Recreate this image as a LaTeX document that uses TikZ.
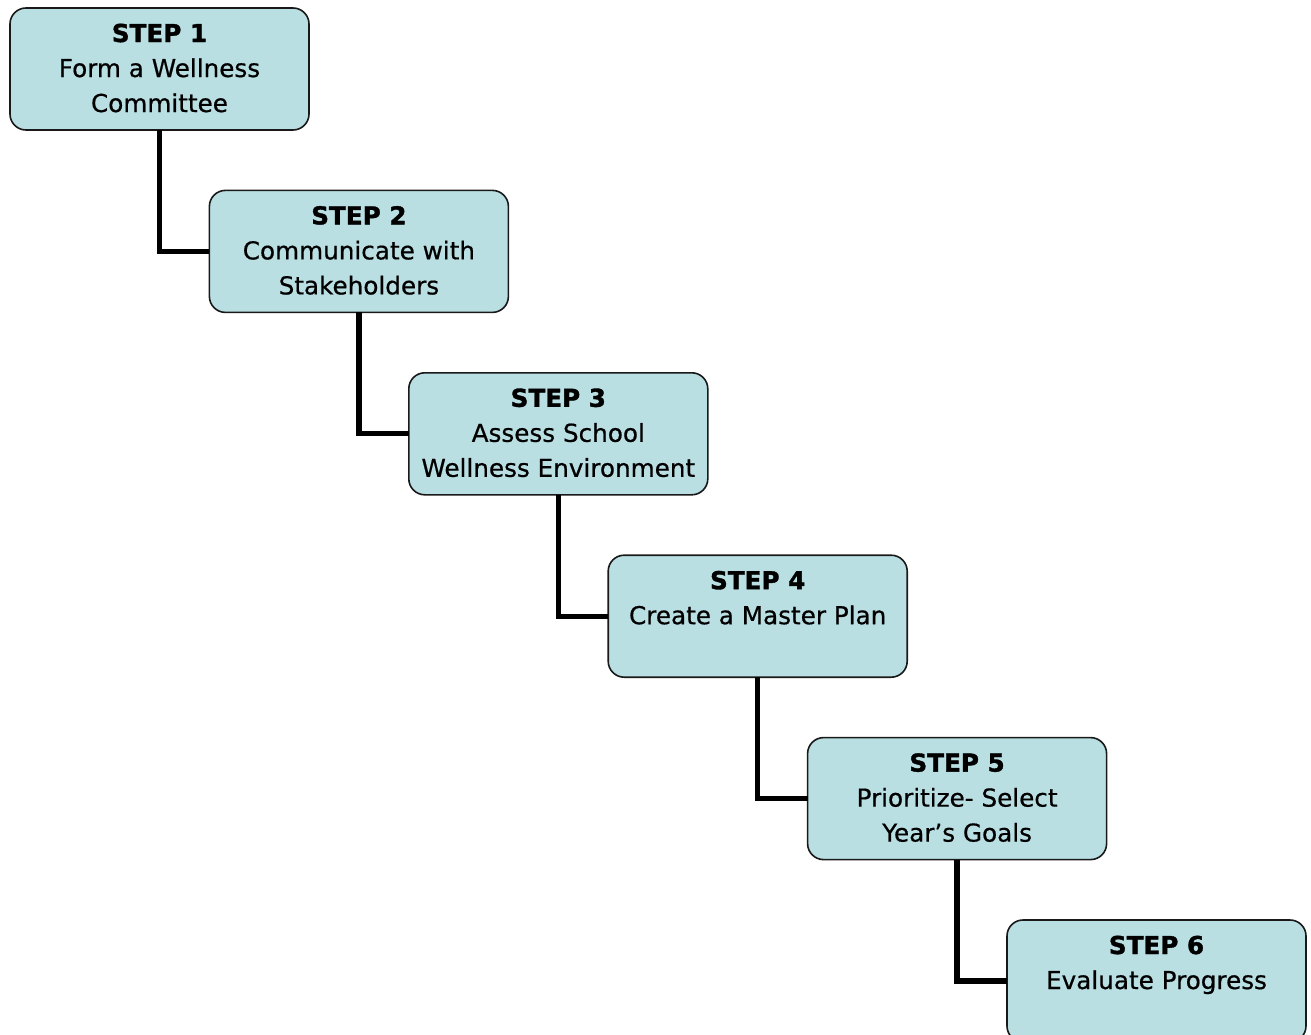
\documentclass[tikz,border=0pt]{standalone}
\usepackage{fontspec}
\setmainfont{DejaVu Sans}[FakeBold=0.6, BoldFeatures={FakeBold=1.4}]
\usepackage{tikz}
\usetikzlibrary{positioning}

\definecolor{stepfill}{RGB}{185,223,227}
\newcommand{\steplabel}[2]{\parbox[c][91.5pt][t]{224.25pt}{\centering\rule{0pt}{25.5pt}\textbf{STEP #1}\\#2}}

\begin{document}
\begin{tikzpicture}[
stepbox/.style={rectangle, rounded corners=12pt, draw=black!90, fill=stepfill, line width=1.2pt, inner sep=0pt, outer sep=0pt, minimum width=224.25pt, minimum height=91.5pt, font=\fontsize{18.5pt}{26.25pt}\selectfont},
link/.style={line width=4pt, black},
]
\useasboundingbox (0,0) rectangle (983.25pt,-776.25pt);
%Nodes
\node[stepbox, anchor=north west] (step1) at (7.5pt,-6pt)             {\steplabel{1}{Form a Wellness\\Committee}};
\node[stepbox]      (step2)      [below right=45.3pt and -74.7pt of step1] {\steplabel{2}{Communicate with\\Stakeholders}};
\node[stepbox]      (step3)      [below right=45.3pt and -74.7pt of step2] {\steplabel{3}{Assess School\\Wellness Environment}};
\node[stepbox]      (step4)      [below right=45.3pt and -74.7pt of step3] {\steplabel{4}{Create a Master Plan}};
\node[stepbox]      (step5)      [below right=45.3pt and -74.7pt of step4] {\steplabel{5}{Prioritize- Select\\Year’s Goals}};
\node[stepbox]      (step6)      [below right=45.3pt and -74.7pt of step5] {\steplabel{6}{Evaluate Progress}};

%Lines
\draw[link] (step1.south) |- (step2.west);
\draw[link] (step2.south) |- (step3.west);
\draw[link] (step3.south) |- (step4.west);
\draw[link] (step4.south) |- (step5.west);
\draw[link] (step5.south) |- (step6.west);

\end{tikzpicture}
\end{document}
